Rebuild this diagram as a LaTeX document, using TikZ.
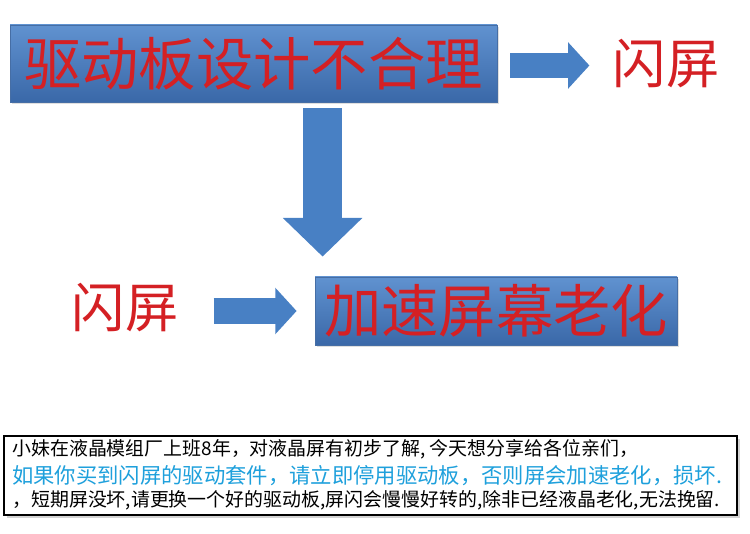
\documentclass[tikz,border=0pt]{standalone}
\usepackage{fontspec}
\newfontfamily\cjk{Noto Sans CJK SC}
\usetikzlibrary{arrows.meta,calc,shadows}

\definecolor{boxtop}{RGB}{96,146,208}
\definecolor{boxbot}{RGB}{58,104,168}
\definecolor{boxedge}{RGB}{70,110,165}
\definecolor{arrowblue}{RGB}{72,128,196}
\definecolor{textred}{RGB}{212,32,36}
\definecolor{noteblue}{RGB}{30,160,220}

\begin{document}
\begin{tikzpicture}[x=0.75pt,y=-0.75pt,
bluebox/.style={draw=boxedge, line width=0.6pt, top color=boxtop, bottom color=boxbot,
  drop shadow={opacity=0.25, shadow xshift=1.5pt, shadow yshift=-1.5pt}, inner sep=0pt},
bigred/.style={font=\cjk\fontsize{43}{43}\selectfont, text=textred},
redlabel/.style={font=\cjk\fontsize{40}{40}\selectfont, text=textred, inner sep=0pt},
blockarrow/.style={draw=arrowblue, line width=19pt, -{Triangle[width=34pt,length=16pt]}},
blockdown/.style={draw=arrowblue, line width=29pt, -{Triangle[width=58pt,length=29pt]}},
notebox/.style={draw=black, line width=1.5pt, fill=white,
  drop shadow={opacity=0.35, shadow xshift=2pt, shadow yshift=-2pt}},
noteline/.style={anchor=west, inner sep=0pt, font=\cjk\fontsize{14.2}{14.2}\selectfont}]

\useasboundingbox (0,0) rectangle (750,534);

% blocks
\node[bluebox, bigred, minimum width=365.25pt, minimum height=57.75pt] (drv) at (253.5,63.5) {驱动板设计不合理};
\node[bluebox, bigred, minimum width=271.5pt, minimum height=51pt] (age) at (496,311) {加速屏幕老化};

\node[redlabel] (flash1) at (666,64) {闪屏};
\node[redlabel] (flash2) at (125,308) {闪屏};

% arrows
\draw[blockarrow] ($(drv.east)+(13,2)$) -- ($(drv.east -| flash1.west)+(-23,2)$);
\draw[blockdown] ($(drv.south -| age.west)+(8,6)$) -- ($(age.north west)+(8,-20)$);
\draw[blockarrow] ($(flash2.east |- age.west)+(35,0)$) -- ($(age.west)+(-18,0)$);

% note at the bottom
\node[notebox, minimum width=549.75pt, minimum height=59.25pt] (note) at (370.5,475.5) {};
\node[noteline] (line1) at (12,449) {小妹在液晶模组厂上班8年，对液晶屏有初步了解, 今天想分享给各位亲们，};
\node[noteline, text=noteblue, font=\cjk\fontsize{16}{16}\selectfont] (line2) at (12,476) {如果你买到闪屏的驱动套件，请立即停用驱动板，否则屏会加速老化，损坏.};
\node[noteline] (line3) at (12,500) {，短期屏没坏,请更换一个好的驱动板,屏闪会慢慢好转的,除非已经液晶老化,无法挽留.};

\end{tikzpicture}
\end{document}
